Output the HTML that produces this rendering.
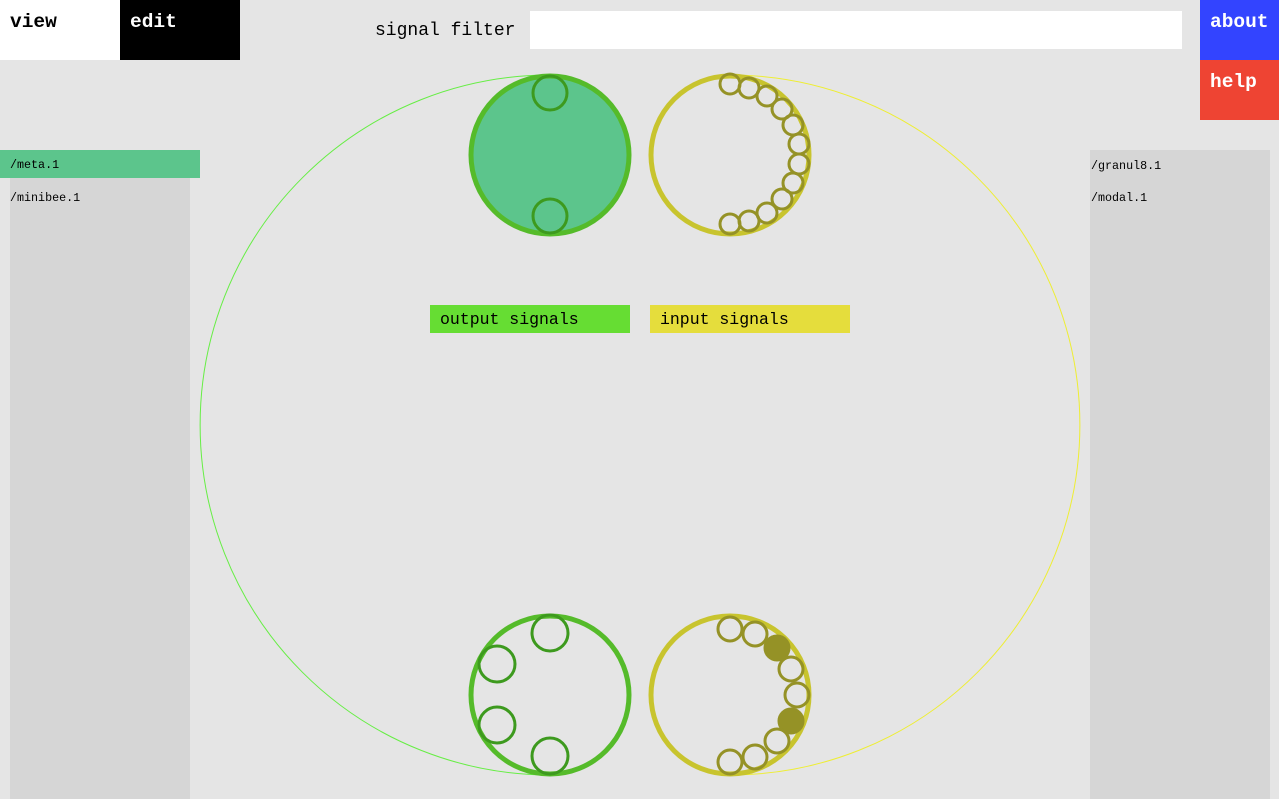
<!DOCTYPE html>
<html><head><meta charset="utf-8"><style>
body{margin:0;width:1279px;height:799px;background:#e5e5e5;overflow:hidden;position:relative;font-family:"Liberation Mono",monospace}
.abs{position:absolute}
.tab{font-weight:bold;font-size:19.5px;padding:11px 10px;box-sizing:border-box}
.item{font-size:11.7px}
</style></head><body>
<div class="abs tab" style="left:0;top:0;width:120px;height:60px;background:#fff;color:#000">view</div>
<div class="abs tab" style="left:120px;top:0;width:120px;height:60px;background:#000;color:#fff">edit</div>
<div class="abs" style="left:375px;top:21px;font-size:18px">signal filter</div>
<div class="abs" style="left:530px;top:11px;width:652px;height:38px;background:#fff"></div>
<div class="abs tab" style="left:1200px;top:0;width:79px;height:60px;background:#3344ff;color:#fff">about</div>
<div class="abs tab" style="left:1200px;top:60px;width:79px;height:60px;background:#ee4433;color:#fff">help</div>
<div class="abs" style="left:10px;top:150px;width:180px;height:649px;background:#d6d6d6"></div>
<div class="abs item" style="left:0;top:150px;width:200px;height:28px;background:#5cc58c;line-height:31px;padding-left:10px;box-sizing:border-box">/meta.1</div>
<div class="abs item" style="left:10px;top:191px">/minibee.1</div>
<div class="abs" style="left:1090px;top:150px;width:180px;height:649px;background:#d6d6d6"></div>
<div class="abs item" style="left:1091px;top:159px">/granul8.1</div>
<div class="abs item" style="left:1091px;top:191px">/modal.1</div>
<svg class="abs" style="left:0;top:0" width="1279" height="799">
<path d="M550 75 A350 350 0 0 0 550 775" fill="none" stroke="#66ee44" stroke-width="1"/>
<path d="M730 75 A350 350 0 0 1 730 775" fill="none" stroke="#eeee33" stroke-width="1"/>
<circle cx="550" cy="155" r="79" fill="#5cc58c" stroke="#55bb2a" stroke-width="5"/>
<circle cx="730" cy="155" r="79" fill="none" stroke="#c8c42e" stroke-width="5"/>
<circle cx="550" cy="695" r="79" fill="none" stroke="#55bb2a" stroke-width="5"/>
<circle cx="730" cy="695" r="79" fill="none" stroke="#c8c42e" stroke-width="5"/>
<g fill="none" stroke="#3d9a1e" stroke-width="3">
<circle cx="550" cy="93" r="17"/><circle cx="550" cy="216" r="17"/>
<circle cx="550" cy="633" r="18"/><circle cx="497" cy="664" r="18"/><circle cx="497" cy="725" r="18"/><circle cx="550" cy="756" r="18"/>
</g>
<g fill="none" stroke="#959226" stroke-width="3">
<circle cx="730" cy="84" r="10"/><circle cx="749" cy="88" r="10"/><circle cx="767" cy="96" r="10"/><circle cx="782" cy="109" r="10"/><circle cx="793" cy="125" r="10"/><circle cx="799" cy="144" r="10"/><circle cx="799" cy="164" r="10"/><circle cx="793" cy="183" r="10"/><circle cx="782" cy="199" r="10"/><circle cx="767" cy="213" r="10"/><circle cx="749" cy="221" r="10"/><circle cx="730" cy="224" r="10"/>
<circle cx="730" cy="629" r="12"/><circle cx="755" cy="634" r="12"/><circle cx="777" cy="648" r="12" fill="#959226"/><circle cx="791" cy="669" r="12"/><circle cx="797" cy="695" r="12"/><circle cx="791" cy="721" r="12" fill="#959226"/><circle cx="777" cy="741" r="12"/><circle cx="755" cy="757" r="12"/><circle cx="730" cy="762" r="12"/>
</g>
</svg>
<div class="abs" style="left:430px;top:305px;width:200px;height:28px;background:#66dd33;font-size:16.5px;line-height:30px;padding-left:10px;box-sizing:border-box">output signals</div>
<div class="abs" style="left:650px;top:305px;width:200px;height:28px;background:#e5dd3c;font-size:16.5px;line-height:30px;padding-left:10px;box-sizing:border-box">input signals</div>
</body></html>
